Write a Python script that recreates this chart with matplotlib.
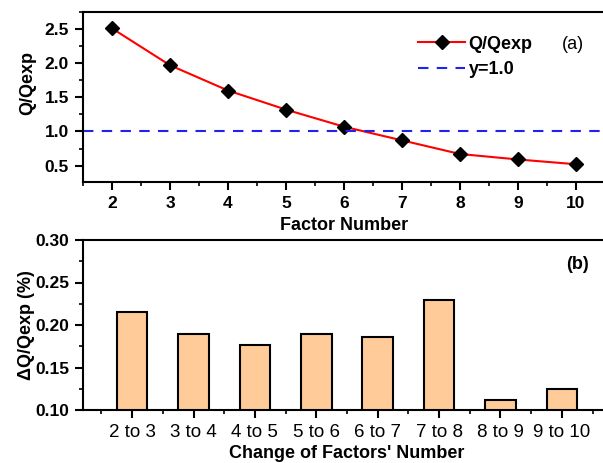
"""
Q/Qexp versus factor number, and the relative change between factor numbers.
"""

import matplotlib
matplotlib.use("Agg")
import matplotlib.pyplot as plt
from matplotlib.ticker import MultipleLocator

factors = [2, 3, 4, 5, 6, 7, 8, 9, 10]
q_ratio = [2.51, 1.97, 1.60, 1.32, 1.07, 0.87, 0.67, 0.59, 0.52]

changes = ["2 to 3", "3 to 4", "4 to 5", "5 to 6", "6 to 7", "7 to 8", "8 to 9", "9 to 10"]
delta_q = [0.215, 0.189, 0.176, 0.190, 0.186, 0.229, 0.112, 0.125]

plt.rcParams["font.family"] = ["Liberation Sans", "DejaVu Sans"]
plt.rcParams["axes.linewidth"] = 1.5

fig = plt.figure(figsize=(6.03, 4.63), dpi=100)
W, H = 603.0, 463.0

# top panel
ax1 = fig.add_axes([83 / W, 1 - 182 / H, (605 - 83) / W, (182 - 12) / H])
ax1.plot(factors, q_ratio, color="red", lw=1.5, marker="D", ms=7,
         mfc="black", mec="black", label="Q/Qexp")
ax1.axhline(1.0, color="#2222ee", lw=1.5, ls=(0, (5, 4)), label="y=1.0")
ax1.set_xlim(1.5, 10.5)
ax1.set_ylim(0.26, 2.75)
ax1.xaxis.set_major_locator(MultipleLocator(1))
ax1.xaxis.set_minor_locator(MultipleLocator(0.5))
ax1.yaxis.set_major_locator(MultipleLocator(0.5))
ax1.yaxis.set_minor_locator(MultipleLocator(0.25))
ax1.set_xlabel("Factor Number", fontsize=13, fontweight="bold", labelpad=4.5)
ax1.set_ylabel("Q/Qexp", fontsize=13, fontweight="bold")
ax1.yaxis.set_label_coords(-0.09, 0.58)
ax1.legend(loc="upper left", bbox_to_anchor=(0.642, 0.86), frameon=False,
           borderaxespad=0, borderpad=0,
           prop={"weight": "bold", "size": 13}, handlelength=2.6,
           handletextpad=0.2, labelspacing=0.45)
ax1.text(0.939, 0.806, "(a)", transform=ax1.transAxes, fontsize=13,
         ha="center", va="center")

# bottom panel
ax2 = fig.add_axes([83 / W, 1 - 410 / H, (611 - 83) / W, (410 - 240) / H])
xs = list(range(len(changes)))
ax2.bar(xs, delta_q, width=0.5, color="#FFCC99", edgecolor="black", lw=1.5)
ax2.set_xlim(-0.8, 7.8)
ax2.set_ylim(0.10, 0.30)
ax2.set_xticks(xs)
ax2.set_xticklabels(changes)
ax2.xaxis.set_minor_locator(MultipleLocator(0.5))
ax2.yaxis.set_major_locator(MultipleLocator(0.05))
ax2.yaxis.set_minor_locator(MultipleLocator(0.025))
ax2.set_xlabel("Change of Factors' Number", fontsize=13, fontweight="bold", labelpad=3)
ax2.set_ylabel("ΔQ/Qexp (%)", fontsize=13, fontweight="bold")
ax2.yaxis.set_label_coords(-0.09, 0.5)
ax2.text(0.936, 0.853, "(b)", transform=ax2.transAxes, fontsize=13,
         fontweight="bold", ha="center", va="center")

for ax in (ax1, ax2):
    ax.spines["right"].set_visible(False)
    ax.tick_params(which="major", direction="out", length=6, width=1.5, pad=4)
    ax.tick_params(which="minor", direction="out", length=3, width=1.2)
    ax.tick_params(axis="both", labelsize=12.5)
for lab in ax1.get_xticklabels() + ax1.get_yticklabels() + ax2.get_yticklabels():
    lab.set_fontweight("bold")
ax2.tick_params(axis="x", labelsize=13.5)

fig.savefig("out.png", dpi=100)
